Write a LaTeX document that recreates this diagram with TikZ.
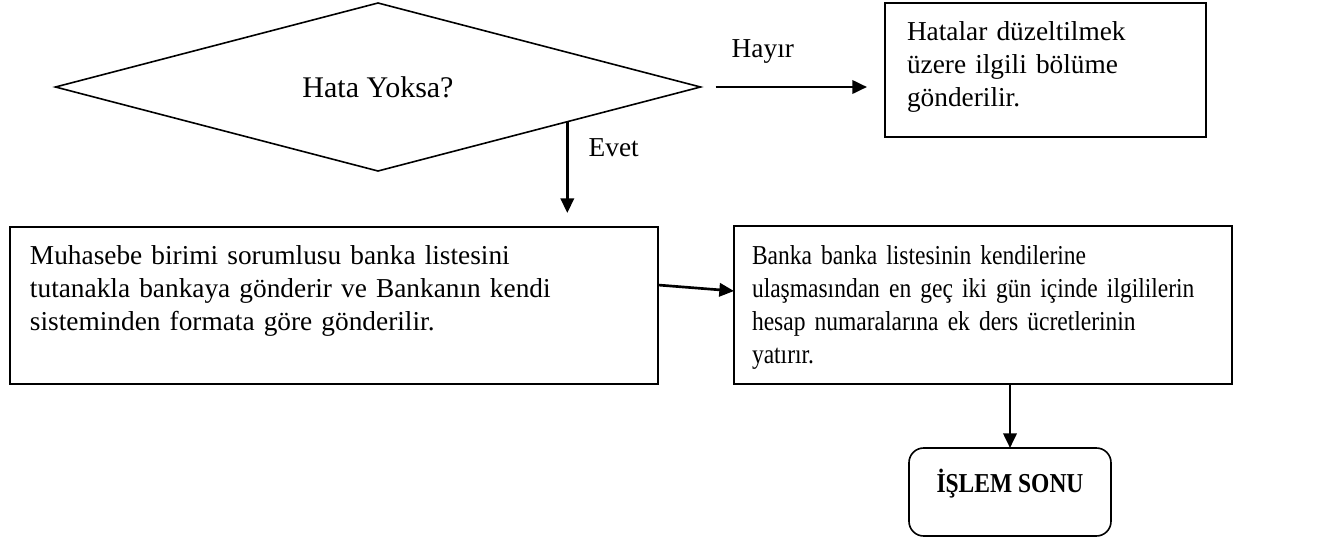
\documentclass[tikz,border=0pt]{standalone}
\usepackage{fontspec}
\setmainfont{Liberation Serif}
\newfontfamily\darfont[FakeStretch=0.86]{Liberation Serif}
\usepackage{tikz}
\usetikzlibrary{positioning, calc, shapes.geometric, arrows.meta}

\begin{document}
\begin{tikzpicture}[x=0.75pt,y=0.75pt,yscale=-1,xscale=1,
  every node/.style={font=\fontsize{20.5pt}{24.75pt}\selectfont},
  dar/.style={font=\darfont\fontsize{20.5pt}{24.75pt}\selectfont},
  kutu/.style={draw, line width=1.2pt, rectangle, anchor=north west, outer sep=0pt, inner ysep=0pt, align=left, text height=27.75pt},
  etiket/.style={inner sep=0pt, anchor=base west},
  ok/.style={line width=2pt, -{Triangle[length=11pt,width=10pt]}}]
\useasboundingbox (0,0) rectangle (1336,543);

%Shape: Diamond
\node (karar) at (378,87) [draw, line width=1.2pt, diamond, aspect=3.84, inner sep=0pt, outer sep=0pt, minimum width=483.75pt, minimum height=126pt, font=\fontsize{22.5pt}{27pt}\selectfont] {Hata Yoksa?};
%Shape: Rectangle
\node (hata) at (885,3) [kutu, inner xsep=16.5pt, text width=207.75pt, text depth=72.75pt] {\makebox[169.5pt][s]{Hatalar düzeltilmek}\\ \makebox[169.5pt][s]{üzere ilgili bölüme}\\ gönderilir.};
%Shape: Rectangle
\node (muh) at (10,227) [kutu, inner xsep=15pt, text width=456pt, text depth=90pt] {Muhasebe birimi\  sorumlusu\  banka listesini\\ tutanakla\  bankaya gönderir\  ve Bankanın\  kendi\\ sisteminden\  formata göre gönderilir.};
%Shape: Rectangle
\node (banka) at (734,226) [kutu, dar, inner xsep=13.5pt, text width=346.5pt, text height=28.5pt, text depth=90pt] {Banka banka listesinin\  kendilerine\\ ulaşmasından\  en geç iki gün içinde\  ilgililerin\\ hesap numaralarına\  ek ders ücretlerinin\\ yatırır.};
%Shape: Rounded Rectangle
\node (son) at (909,448) [kutu, dar, rounded corners=11pt, inner xsep=0pt, minimum width=151.5pt, align=center, text height=33pt, text depth=33pt] {\textbf{İŞLEM\  SONU}};

%Straight Lines
\draw [ok, shorten <=11.25pt, shorten >=13.5pt] (karar.east) -- node [etiket, pos=0.162, yshift=22.5pt] {Hayır} (karar.east -| hata.west);
%Straight Lines
\coordinate (evetbas) at ($(karar.east)!0.413!(karar.south)$);
\draw [ok, shorten >=10.5pt] (evetbas) -- node [etiket, pos=0.333, xshift=15pt] {Evet} (evetbas |- muh.north);
%Straight Lines
\draw [ok] ($(muh.north east)+(0,58)$) -- ($(banka.north west)+(0,65)$);
%Straight Lines
\draw [ok] (son.north |- banka.south) -- (son.north);

\end{tikzpicture}
\end{document}
